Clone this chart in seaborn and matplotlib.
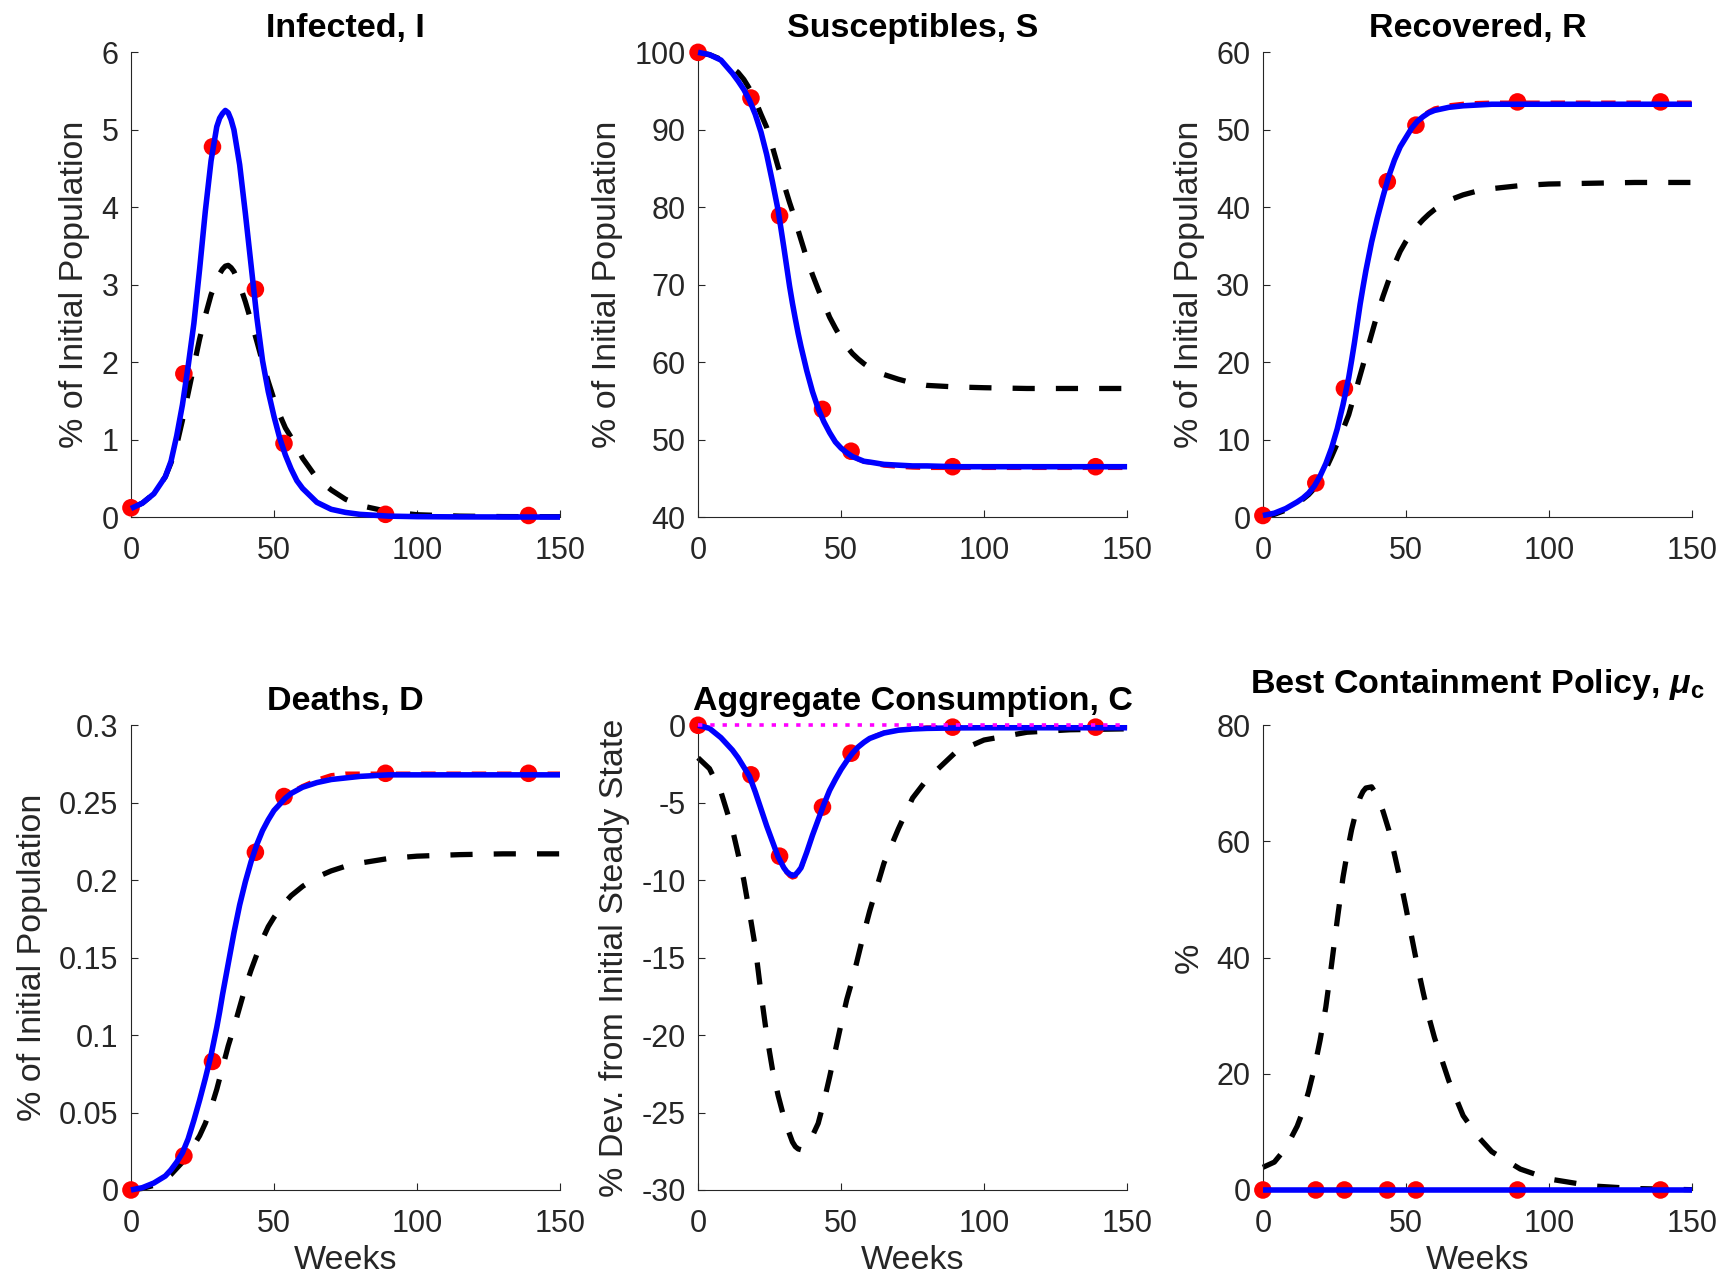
import matplotlib
matplotlib.use("Agg")
import matplotlib.pyplot as plt
import seaborn as sns
from matplotlib.ticker import FuncFormatter

weeks = [0, 4, 8, 12, 14, 16, 18, 20, 22, 24, 26, 28, 30, 31, 32, 33, 34, 35, 36, 38, 40,
         42, 44, 46, 48, 50, 52, 54, 56, 58, 60, 65, 70, 75, 80, 90, 100, 115, 130, 150]

# weeks carrying the red circle markers
dot_weeks = [0, 18.5, 28.5, 43.5, 53.5, 89, 139]

# Infected, I
inf_black = [0.11, 0.18, 0.30, 0.52, 0.70, 0.93, 1.25, 1.60, 1.95, 2.30, 2.60, 2.87, 3.06, 3.14, 3.20, 3.24,
             3.25, 3.22, 3.17, 3.00, 2.78, 2.53, 2.27, 2.00, 1.75, 1.52, 1.32, 1.15, 1.03, 0.90, 0.76, 0.50,
             0.35, 0.23, 0.15, 0.07, 0.03, 0.012, 0.006, 0.004]
inf_blue = [0.11, 0.18, 0.30, 0.52, 0.72, 1.05, 1.45, 1.95, 2.50, 3.20, 3.95, 4.60, 5.04, 5.15, 5.21, 5.25,
            5.22, 5.13, 5.00, 4.55, 3.92, 3.25, 2.58, 2.02, 1.62, 1.30, 1.02, 0.80, 0.62, 0.47, 0.37, 0.19,
            0.10, 0.06, 0.035, 0.012, 0.005, 0.002, 0.001, 0.0]
inf_red = inf_blue
inf_dots = [0.12, 1.85, 4.78, 2.94, 0.95, 0.035, 0.02]

# Susceptibles, S
sus_black = [100, 99.7, 99.1, 98.0, 97.4, 96.5, 95.3, 93.8, 92.0, 90.3, 87.8, 85.2, 83.0, 81.8, 80.6, 79.5,
             78.3, 77.0, 75.8, 73.4, 71.3, 69.4, 67.6, 65.8, 64.4, 63.1, 62.0, 61.1, 60.4, 59.8, 59.3, 58.4,
             57.8, 57.3, 57.0, 56.8, 56.7, 56.6, 56.6, 56.6]
sus_blue = [100, 99.7, 99.0, 97.3, 96.3, 95.2, 93.8, 92.0, 89.7, 86.8, 83.3, 79.6, 74.8, 72.3, 69.8, 67.6,
            65.6, 63.7, 62.0, 58.9, 56.2, 54.0, 52.3, 50.9, 49.7, 48.9, 48.3, 47.8, 47.5, 47.2, 47.1, 46.8,
            46.7, 46.6, 46.6, 46.5, 46.5, 46.5, 46.5, 46.5]
sus_red = [100, 99.7, 99.0, 97.3, 96.3, 95.2, 93.8, 92.0, 89.7, 86.8, 83.3, 79.6, 74.8, 72.3, 69.8, 67.6,
           65.6, 63.7, 62.0, 58.9, 56.2, 54.0, 52.3, 50.9, 49.7, 48.9, 48.3, 47.8, 47.4, 47.1, 47.0, 46.6,
           46.45, 46.35, 46.3, 46.3, 46.3, 46.3, 46.3, 46.3]
sus_dots = [100, 94.1, 78.9, 53.9, 48.5, 46.5, 46.5]

# Recovered, R
rec_black = [0.0, 0.35, 0.9, 1.8, 2.3, 2.9, 3.7, 4.8, 6.2, 7.8, 9.5, 11.3, 13.2, 14.5, 15.8, 17.0,
             18.3, 19.6, 21.0, 23.6, 26.2, 28.5, 30.6, 32.6, 34.3, 35.6, 36.7, 37.6, 38.4, 39.1, 39.7, 40.9,
             41.6, 42.1, 42.4, 42.8, 43.0, 43.1, 43.2, 43.2]
rec_blue = [0.2, 0.5, 1.1, 1.95, 2.45, 3.1, 4.0, 5.3, 6.9, 8.9, 11.4, 14.5, 18.0, 20.2, 22.5, 25.0,
            27.5, 29.7, 31.8, 35.5, 38.6, 41.4, 44.0, 46.1, 47.8, 49.0, 50.2, 51.1, 51.7, 52.2, 52.5, 52.9,
            53.1, 53.2, 53.3, 53.3, 53.3, 53.3, 53.3, 53.3]
rec_red = [0.2, 0.5, 1.1, 1.95, 2.45, 3.1, 4.0, 5.3, 6.9, 8.9, 11.4, 14.5, 18.0, 20.2, 22.5, 25.0,
           27.5, 29.7, 31.8, 35.5, 38.6, 41.4, 44.0, 46.1, 47.8, 49.0, 50.2, 51.1, 51.9, 52.4, 52.8, 53.2,
           53.4, 53.5, 53.55, 53.55, 53.55, 53.55, 53.55, 53.55]
rec_dots = [0.2, 4.4, 16.6, 43.3, 50.6, 53.6, 53.6]

# Deaths, D
dth_black = [0.0, 0.001, 0.003, 0.007, 0.010, 0.014, 0.018, 0.023, 0.029, 0.035, 0.043, 0.053, 0.065,
             0.072, 0.079, 0.086, 0.093, 0.099, 0.105, 0.118, 0.131, 0.142, 0.152, 0.162, 0.170, 0.176,
             0.181, 0.186, 0.190, 0.193, 0.196, 0.202, 0.206, 0.209, 0.211, 0.214, 0.2155, 0.2165, 0.217, 0.217]
dth_blue = [0.0, 0.0015, 0.0045, 0.009, 0.013, 0.018, 0.024, 0.033, 0.045, 0.058, 0.072, 0.087, 0.105,
            0.115, 0.126, 0.136, 0.146, 0.156, 0.166, 0.184, 0.199, 0.212, 0.223, 0.232, 0.239, 0.245,
            0.249, 0.253, 0.256, 0.258, 0.260, 0.263, 0.265, 0.266, 0.267, 0.268, 0.268, 0.268, 0.268, 0.268]
dth_red = [0.0, 0.0015, 0.0045, 0.009, 0.013, 0.018, 0.024, 0.033, 0.045, 0.058, 0.072, 0.087, 0.105,
           0.115, 0.126, 0.136, 0.146, 0.156, 0.166, 0.184, 0.199, 0.212, 0.223, 0.232, 0.239, 0.245,
           0.250, 0.254, 0.257, 0.259, 0.261, 0.265, 0.268, 0.269, 0.269, 0.269, 0.269, 0.269, 0.269, 0.269]
dth_dots = [0.0, 0.022, 0.083, 0.218, 0.254, 0.269, 0.269]

# Aggregate Consumption, C
cons_black = [-2.1, -2.8, -4.3, -6.7, -8.3, -10.0, -12.1, -14.3, -17.3, -20.0, -22.2, -23.9, -25.3,
              -25.9, -26.4, -26.9, -27.2, -27.35, -27.4, -27.0, -26.5, -25.7, -24.3, -22.7, -21.0, -19.3,
              -17.7, -16.4, -14.9, -13.4, -12.0, -8.9, -6.7, -4.7, -3.5, -1.75, -0.95, -0.45, -0.29, -0.23]
cons_blue = [0.0, -0.2, -0.8, -1.6, -2.1, -2.7, -3.3, -4.3, -5.4, -6.5, -7.5, -8.5, -9.2, -9.45, -9.6,
             -9.7, -9.65, -9.45, -9.2, -8.2, -7.1, -6.1, -5.1, -4.2, -3.5, -2.85, -2.3, -1.8, -1.4, -1.1,
             -0.85, -0.5, -0.32, -0.24, -0.2, -0.17, -0.16, -0.16, -0.16, -0.16]
cons_red = [0.0, -0.2, -0.8, -1.6, -2.1, -2.7, -3.3, -4.3, -5.4, -6.5, -7.5, -8.5, -9.3, -9.55, -9.75,
            -9.85, -9.8, -9.6, -9.35, -8.2, -7.1, -6.1, -5.1, -4.2, -3.5, -2.85, -2.3, -1.8, -1.4, -1.1,
            -0.8, -0.45, -0.28, -0.2, -0.12, -0.12, -0.12, -0.12, -0.12, -0.12]
cons_dots = [0.0, -3.2, -8.45, -5.28, -1.8, -0.12, -0.12]

# Best containment policy, mu_c
mu_black = [3.9, 4.8, 7.2, 11.0, 13.6, 17.0, 21.0, 25.8, 31.5, 38.8, 46.5, 53.8, 59.5, 62.0, 64.0, 66.0,
            67.6, 68.6, 69.2, 69.4, 67.8, 65.2, 62.0, 57.8, 53.4, 48.6, 43.6, 38.6, 34.1, 29.8, 26.2, 18.8,
            12.8, 9.3, 6.6, 3.6, 1.9, 0.7, 0.25, 0.05]
mu_blue = [0.0] * len(weeks)
mu_red = mu_blue
mu_dots = [0, 0, 0, 0, 0, 0, 0]

x_ticks = [0, 50, 100, 150]

sns.set_style("ticks")
plt.rcParams["font.family"] = ["Liberation Sans", "DejaVu Sans"]
plt.rcParams["axes.unicode_minus"] = False
plt.rcParams["mathtext.fontset"] = "custom"
plt.rcParams["mathtext.rm"] = "Liberation Sans"
plt.rcParams["mathtext.it"] = "Liberation Sans:italic"
plt.rcParams["mathtext.bf"] = "Liberation Sans:bold"
plt.rcParams["mathtext.bfit"] = "Liberation Sans:bold:italic"

INK = "#262626"

panels = [
    dict(pos=[0.0757, 0.597], title="Infected, I", ylabel="% of Initial Population", xlabel="",
         ylim=(0, 6), yticks=[0, 1, 2, 3, 4, 5, 6],
         black=inf_black, red=inf_red, blue=inf_blue, dots=inf_dots, pad=11),
    dict(pos=[0.4035, 0.597], title="Susceptibles, S", ylabel="% of Initial Population", xlabel="",
         ylim=(40, 100), yticks=[40, 50, 60, 70, 80, 90, 100],
         black=sus_black, red=sus_red, blue=sus_blue, dots=sus_dots, pad=11),
    dict(pos=[0.730, 0.597], title="Recovered, R", ylabel="% of Initial Population", xlabel="",
         ylim=(0, 60), yticks=[0, 10, 20, 30, 40, 50, 60],
         black=rec_black, red=rec_red, blue=rec_blue, dots=rec_dots, pad=11),
    dict(pos=[0.0757, 0.0725], title="Deaths, D", ylabel="% of Initial Population", xlabel="Weeks",
         ylim=(0, 0.3), yticks=[0, 0.05, 0.1, 0.15, 0.2, 0.25, 0.3],
         black=dth_black, red=dth_red, blue=dth_blue, dots=dth_dots, pad=11),
    dict(pos=[0.4035, 0.0725], title="Aggregate Consumption, C",
         ylabel="% Dev. from Initial Steady State", xlabel="Weeks",
         ylim=(-30, 0), yticks=[-30, -25, -20, -15, -10, -5, 0],
         black=cons_black, red=cons_red, blue=cons_blue, dots=cons_dots, pad=11),
    dict(pos=[0.730, 0.0725], title=r"Best Containment Policy, $\boldsymbol{\mu}_{\mathbf{c}}$",
         ylabel="%", xlabel="Weeks",
         ylim=(0, 80), yticks=[0, 20, 40, 60, 80],
         black=mu_black, red=mu_red, blue=mu_blue, dots=mu_dots, pad=23),
]

fig = plt.figure(figsize=(17.3, 12.83), dpi=100)

for i, p in enumerate(panels):
    ax = fig.add_axes([p["pos"][0], p["pos"][1], 0.248, 0.3622])

    sns.lineplot(x=weeks, y=p["black"], ax=ax, color="black", linewidth=3.8,
                 linestyle=(0, (4.2, 4.0)), dash_joinstyle="round", zorder=2, clip_on=False)
    sns.lineplot(x=weeks, y=p["red"], ax=ax, color="red", linewidth=2.6,
                 linestyle=(0, (4.0, 3.0)), dash_joinstyle="round", zorder=3, clip_on=False)
    sns.scatterplot(x=dot_weeks, y=p["dots"], ax=ax, color="red", s=160,
                    edgecolor="none", linewidth=0, zorder=4, clip_on=False)
    sns.lineplot(x=weeks, y=p["blue"], ax=ax, color="blue", linewidth=4.0,
                 solid_joinstyle="round", solid_capstyle="butt", zorder=5, clip_on=False)

    if i == 4:
        # zero reference line
        ax.axhline(0, color="magenta", linewidth=2.6, linestyle=(0, (1.2, 2.2)), zorder=6,
                   clip_on=False)

    ax.set_xlim(0, 150)
    ax.set_ylim(*p["ylim"])
    ax.set_xticks(x_ticks)
    ax.set_yticks(p["yticks"])
    ax.yaxis.set_major_formatter(FuncFormatter(lambda v, _: "%g" % v))

    for side in ["top", "right"]:
        ax.spines[side].set_visible(False)
    for side in ["left", "bottom"]:
        ax.spines[side].set_color(INK)
        ax.spines[side].set_linewidth(0.8)

    ax.tick_params(axis="both", direction="in", length=5, width=0.8, color=INK,
                   labelcolor=INK, labelsize=22)
    ax.tick_params(axis="y", pad=9)
    ax.tick_params(axis="x", pad=14)

    ax.set_title(p["title"], fontsize=24.5, fontweight="bold", color="black", pad=p["pad"])
    ax.set_ylabel(p["ylabel"], fontsize=24.5, color=INK, labelpad=8)
    ax.set_xlabel(p["xlabel"], fontsize=24.5, color=INK, labelpad=4)
    ax.grid(False)

fig.savefig("out.png", dpi=100, facecolor="white")
